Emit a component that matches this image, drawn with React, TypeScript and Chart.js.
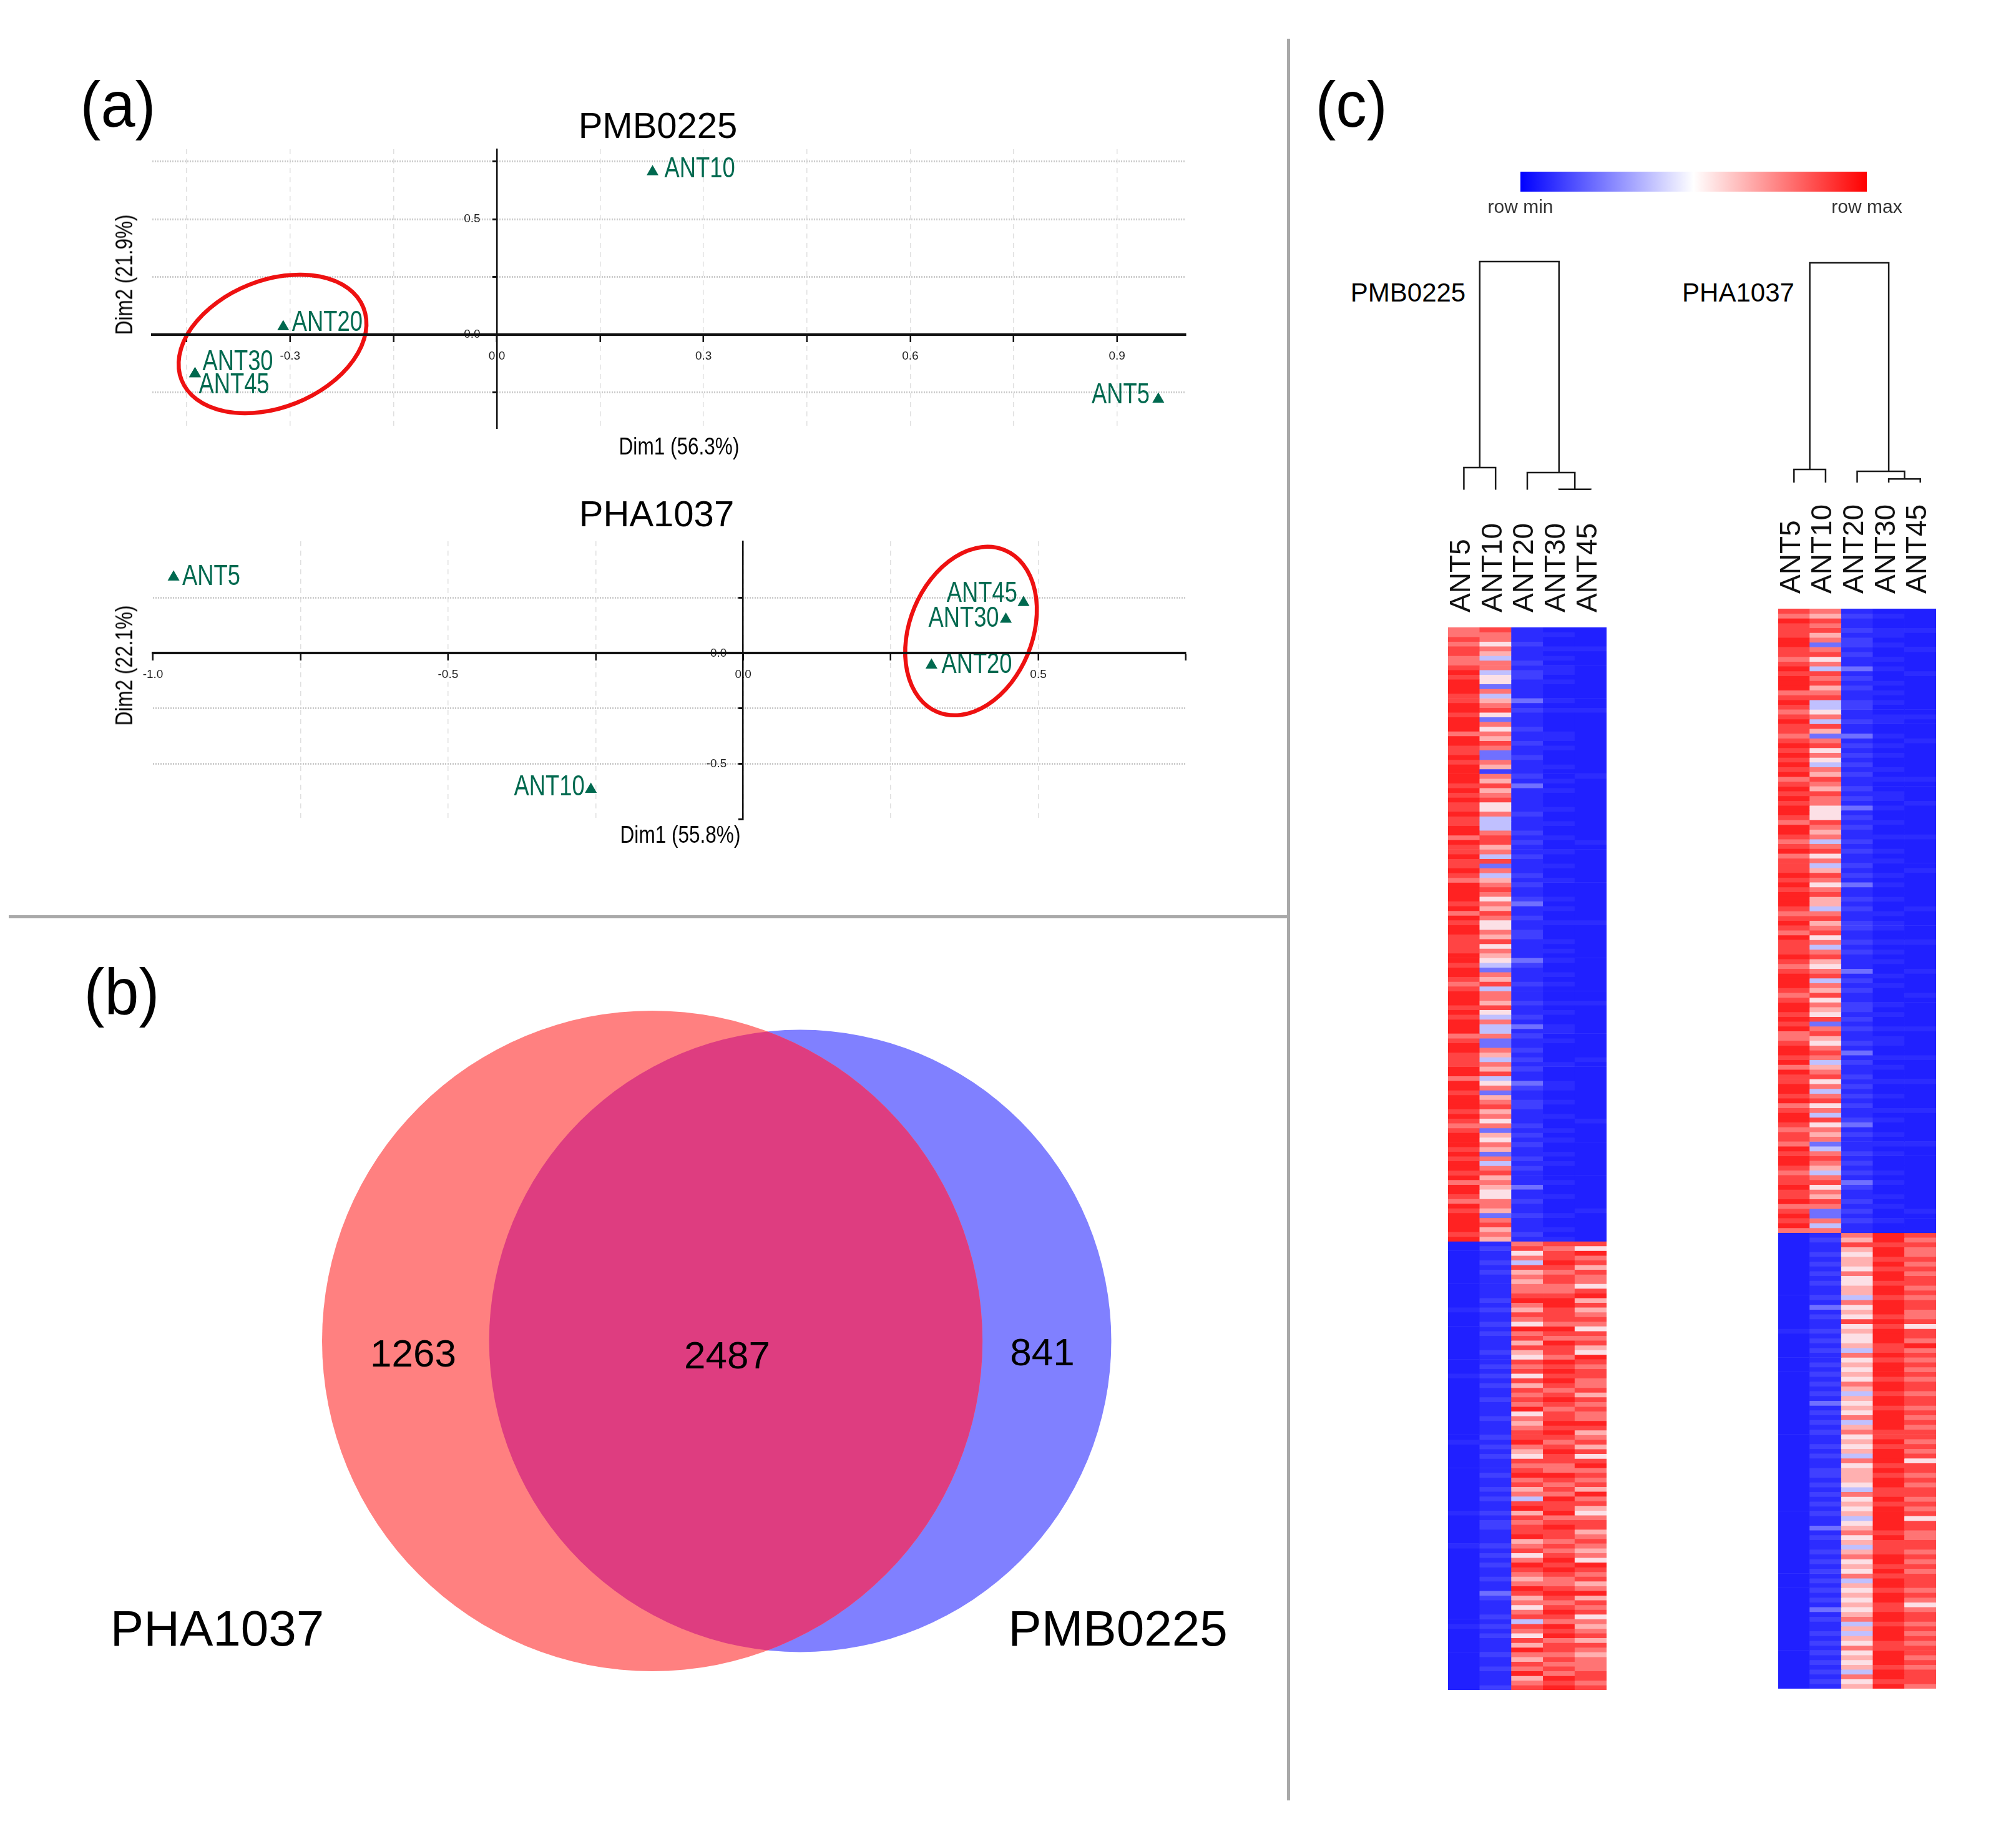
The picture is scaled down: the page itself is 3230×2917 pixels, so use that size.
import React, { useEffect, useRef } from "react";
import { Chart, registerables } from "chart.js";

Chart.register(...registerables);

const FONT = '"Liberation Sans", Arial, sans-serif';
Chart.defaults.font.family = FONT;

// ---------- (a) PCA ----------
const pcaSamples = ["ANT5", "ANT10", "ANT20", "ANT30", "ANT45"];
const pmbDim1 = [0.96, 0.226, -0.31, -0.438, -0.438];
const pmbDim2 = [-0.28, 0.705, 0.034, -0.17, -0.17];
const phaDim1 = [-0.965, -0.258, 0.319, 0.445, 0.475];
const phaDim2 = [0.344, -0.616, -0.054, 0.153, 0.229];
const pmbXTicks = [-0.45, -0.3, -0.15, 0, 0.15, 0.3, 0.45, 0.6, 0.75, 0.9];
const pmbXLabelled = [-0.3, 0, 0.3, 0.6, 0.9];
const pmbYTicks = [0.75, 0.5, 0.25, 0, -0.25];
const pmbYLabelled = [0.5, 0];
const phaXTicks = [-1, -0.75, -0.5, -0.25, 0, 0.25, 0.5, 0.75];
const phaXLabelled = [-1, -0.5, 0, 0.5];
const phaYTicks = [0.25, 0, -0.25, -0.5, -0.75];
const phaYLabelled = [0, -0.5];

// ---------- (b) Venn ----------
const vennSets = ["PHA1037", "PMB0225"];
const vennOnly = [1263, 841];
const vennShared = 2487;

// ---------- (c) heat map, digit 0 = row min ... 9 = row max, one digit per gene row ----------
const heatSamples = ["ANT5", "ANT10", "ANT20", "ANT30", "ANT45"];

const pmbUpperAnt5 = "7787887789 8999889989 9979988989 9998989889 8899798898 8987999989 7989988889 9899878999 8989997899 8889979989 9989878999 8989989799 8798999989";
const pmbUpperAnt10 = "8775764774 5537467853 7576873376 2768678557 4447886748 3746787576 8755768576 5437684776 8547447337 6476845736 7867573657 6374786765 5776378676";
const pmbUpperAnt20 = "1112111212 2111131211 1211211211 1213111112 1112121121 1121211231 1211221111 3211121112 1121312112 1212113211 2211121212 1121211131 1211211121";
const pmbUpperAnt30 = "0100101011 0100010100 0011010001 0010100010 0100100100 1001000101 0010001010 1001010001 0100110100 0010001100 1001001010 0101000100 1000100101";
const pmbUpperAnt45 = "0000100000 0000000100 0000000000 0100000000 0000010000 0000000000 0010000000 0000000001 0000000000 0100000000 0000100000 0000000000 0001000000";

const pmbLowerAnt5 = "0000000000 0000100000 0000000010 0000000000 0010000000 0000000100 0000100000 0000000000 0100000000 00000";
const pmbLowerAnt10 = "1211212111 1121211212 1112112121 2112111211 1212121112 1121211212 2111212121 1211321112 1212111211 21112";
const pmbLowerAnt20 = "7857486767 7897687597 8686587858 6878795767 8897658789 7867489687 8896785798 7679867578 4875869768 79678";
const pmbLowerAnt30 = "8788987887 7899888798 7988798989 8789878898 9878988779 8787988978 9887878989 8778987898 7989788787 87989";
const pmbLowerAnt45 = "8597868775 8968678758 7865987887 7868787798 6786858978 7869786578 8678767598 7867968785 7678687677 78878";

const phaUpperAnt5 = "8798889988 7898999789 8789887898 9898978989 8998799878 9788898989 9987898798 8898789998 7899898977 8998979889 9897899878 8798998788 9889789897";
const phaUpperAnt10 = "7687867378 5748786784 4574863785 7547687687 7555876747 8574687578 6647867857 4786578476 8576583786 5787467857 4785748576 7347876478 5768733747";
const phaUpperAnt20 = "1211212212 1131212112 2112113121 2121211212 1312121121 2112121311 2121122112 1211131212 1122121211 2131211212 1212112312 1112121213 2112121211";
const phaUpperAnt30 = "0100110100 1010010101 0011001010 1001010011 0100100100 1010010100 1001011001 0101001010 0010100101 1001010010 0100101001 0101000101 0010100100";
const phaUpperAnt45 = "0000100010 0001000000 0010000100 0000010000 1000000100 0000100000 0010000001 0000010000 1000000100 0001000010 0000100000 0100000000 0000010000";

const phaLowerAnt5 = "0000000000 0000000000 1000000000 0000000000 0000000000 0000000000 0000000000 0000000000 0000000000 00000";
const phaLowerAnt10 = "1211212121 2112131211 2121211212 1212131212 1211212112 2121212121 1312112121 2121212131 2112121212 12121";
const phaLowerAnt20 = "7686566575 5664756585 6556475656 5764656574 6756564756 6654756564 5675646756 5746565656 7464657565 64756";
const phaLowerAnt30 = "9989989899 8998999898 9998898999 8998998999 9889899989 8998898999 9989888998 9899899889 9899988999 89989";
const phaLowerAnt45 = "8787787878 8787887785 8879787878 7887887878 7887878588 7878878785 8877887878 7888787578 8787878878 78887";

const heatLevels = ["#2020ff", "#2c2cff", "#4040ff", "#7070ff", "#c0c0ff", "#fce0e6", "#ffb0b0", "#ff7474", "#ff4444", "#ff2222"];

// dendrograms: [child, child, height]; ids 0-4 are samples, 5+ are the merges in order
const pmbMerges = [[0, 1, 0.097], [3, 4, 0.002], [2, 6, 0.075], [5, 7, 1]];
const phaMerges = [[0, 1, 0.06], [3, 4, 0.016], [2, 6, 0.051], [5, 7, 1]];

// ---------- helpers ----------
const digits = (s: string) => s.replace(/\s/g, "").split("").map(Number);

const baseOptions = {
  responsive: false,
  devicePixelRatio: 1,
  animation: false,
  events: [],
};

function pcaChart(cfg: any) {
  const pointData = pcaSamples.map((_, i) => ({ x: cfg.xs[i], y: cfg.ys[i] }));
  const overlay = {
    id: "pcaOverlay",
    afterDatasetsDraw(chart: any) {
      const { ctx, scales } = chart;
      ctx.save();
      ctx.fillStyle = "#00694f";
      ctx.font = `46px ${FONT}`;
      ctx.textBaseline = "middle";
      pcaSamples.forEach((name, i) => {
        const [dx, dy, align] = cfg.places[i];
        ctx.save();
        ctx.translate(scales.x.getPixelForValue(cfg.xs[i]) + dx, scales.y.getPixelForValue(cfg.ys[i]) + dy);
        ctx.scale(0.79, 1);
        ctx.textAlign = align;
        ctx.fillText(name, 0, 0);
        ctx.restore();
      });
      const e = cfg.ellipse;
      ctx.strokeStyle = "#ee1111";
      ctx.lineWidth = 6.5;
      ctx.beginPath();
      ctx.ellipse(scales.x.getPixelForValue(e.x), scales.y.getPixelForValue(e.y), e.a, e.b, (e.rot * Math.PI) / 180, 0, 2 * Math.PI);
      ctx.stroke();
      ctx.restore();
    },
  };
  const inner = (min: number, max: number, colour: string) => (c: any) =>
    c.tick && (Math.abs(c.tick.value - min) < 0.01 || Math.abs(c.tick.value - max) < 0.01) ? "rgba(0,0,0,0)" : colour;
  return {
    type: "scatter",
    data: {
      datasets: [
        {
          data: pointData,
          pointStyle: "triangle",
          pointRadius: 11,
          backgroundColor: "#00694f",
          borderColor: "#00694f",
          borderWidth: 0,
        },
      ],
    },
    plugins: [overlay],
    options: {
      ...baseOptions,
      layout: { padding: cfg.padding },
      plugins: { legend: { display: false }, tooltip: { enabled: false } },
      scales: {
        x: {
          type: "linear",
          min: cfg.xMin,
          max: cfg.xMax,
          position: { y: 0 },
          afterBuildTicks: (s: any) => {
            s.ticks = cfg.xTicks.map((value: number) => ({ value }));
          },
          grid: { color: inner(cfg.xMin, cfg.xMax, "#e0e0e0"), lineWidth: 1.5, tickColor: "#111", tickLength: 10, tickWidth: 2.5 },
          border: { color: "#111", width: 4, dash: [8, 7], z: 1 },
          ticks: {
            autoSkip: false,
            maxRotation: 0,
            padding: 13,
            color: "#222",
            font: { size: 19 },
            callback: (v: number) => (cfg.xLabelled.includes(v) ? v.toFixed(1) : ""),
          },
        },
        y: {
          type: "linear",
          min: cfg.yMin,
          max: cfg.yMax,
          position: { x: 0 },
          afterBuildTicks: (s: any) => {
            s.ticks = cfg.yTicks.map((value: number) => ({ value }));
          },
          grid: { color: inner(cfg.yMin, cfg.yMax, "#cccccc"), lineWidth: 3, tickColor: "#111", tickLength: 6, tickWidth: 3 },
          border: { color: "#111", width: 2.5, dash: [2, 2], z: 1 },
          ticks: {
            autoSkip: false,
            color: "#222",
            font: { size: 19 },
            callback: (v: number) => (cfg.yLabelled.includes(v) ? v.toFixed(1) + "     " : ""),
          },
        },
      },
    },
  };
}

function vennChart() {
  const sizes = vennOnly.map((n) => n + vennShared);
  const radius = (n: number) => 8.64 * Math.sqrt(n);
  const overlap = {
    id: "vennOverlap",
    afterDatasetsDraw(chart: any) {
      const [a, b] = [chart.getDatasetMeta(0).data[0], chart.getDatasetMeta(1).data[0]];
      const ctx = chart.ctx;
      ctx.save();
      ctx.beginPath();
      ctx.arc(a.x, a.y, a.options.radius, 0, 2 * Math.PI);
      ctx.clip();
      ctx.beginPath();
      ctx.arc(b.x, b.y, b.options.radius, 0, 2 * Math.PI);
      ctx.fillStyle = "#de3d80";
      ctx.fill();
      ctx.restore();
    },
  };
  return {
    type: "bubble",
    data: {
      datasets: [
        { label: vennSets[0], data: [{ x: 0.21, y: 0.5, r: radius(sizes[0]) }], backgroundColor: "#ff8080", borderWidth: 0, hoverRadius: 0, clip: false },
        { label: vennSets[1], data: [{ x: 0.865, y: 0.5, r: radius(sizes[1]) }], backgroundColor: "#8080ff", borderWidth: 0, hoverRadius: 0, clip: false },
      ],
    },
    plugins: [overlap],
    options: {
      ...baseOptions,
      plugins: { legend: { display: false }, tooltip: { enabled: false } },
      scales: {
        x: { type: "linear", min: 0, max: 1, display: false },
        y: { type: "linear", min: 0, max: 1, display: false },
      },
    },
  };
}

function heatChart(upper: string[], lower: string[]) {
  const columns = upper.map((s, i) => digits(s).concat(digits(lower[i])));
  const rows = Math.max(...columns.map((c) => c.length));
  const datasets = Array.from({ length: rows }, (_, r) => ({
    data: columns.map(() => 1),
    backgroundColor: columns.map((c) => heatLevels[c[r]] ?? "#ffffff"),
    borderWidth: 0,
    barPercentage: 1,
    categoryPercentage: 1,
  }));
  return {
    type: "bar",
    data: { labels: heatSamples, datasets },
    options: {
      ...baseOptions,
      layout: { padding: 0 },
      plugins: { legend: { display: false }, tooltip: { enabled: false } },
      scales: {
        x: {
          stacked: true,
          position: "top",
          grid: { display: false },
          border: { display: false },
          afterFit: (s: any) => {
            s.height = 205;
            s.paddingLeft = 0;
            s.paddingRight = 0;
          },
          ticks: { autoSkip: false, minRotation: 90, maxRotation: 90, padding: 16, labelOffset: 52, color: "#111", font: { size: 46 } },
        },
        y: { stacked: true, reverse: true, min: 0, max: rows, display: false },
      },
    },
  };
}

function treeChart(merges: number[][], padding: any) {
  const nodes: { x: number; h: number; leaves: number[] }[] = heatSamples.map((_, i) => ({ x: i, h: 0, leaves: [i] }));
  const datasets = merges.map(([a, b, h]) => {
    const [A, B] = [nodes[a], nodes[b]];
    const leaves = A.leaves.concat(B.leaves);
    nodes.push({ x: leaves.reduce((t, v) => t + v, 0) / leaves.length, h, leaves });
    return {
      data: [
        { x: A.x, y: A.h },
        { x: A.x, y: h },
        { x: B.x, y: h },
        { x: B.x, y: B.h },
      ],
      showLine: true,
      pointRadius: 0,
      borderColor: "#1a1a1a",
      borderWidth: 2.5,
      tension: 0,
      clip: false,
    };
  });
  return {
    type: "scatter",
    data: { datasets },
    options: {
      ...baseOptions,
      layout: { padding },
      plugins: { legend: { display: false }, tooltip: { enabled: false } },
      scales: {
        x: { type: "linear", min: -0.5, max: 4.5, display: false },
        y: { type: "linear", min: 0, max: 1, display: false },
      },
    },
  };
}

function colorBarChart() {
  return {
    type: "bar",
    data: {
      labels: ["row"],
      datasets: [
        {
          data: [1],
          barPercentage: 1,
          categoryPercentage: 1,
          backgroundColor: (c: any) => {
            const area = c.chart.chartArea;
            if (!area) return "#fff";
            const g = c.chart.ctx.createLinearGradient(area.left, 0, area.right, 0);
            g.addColorStop(0, "#0000ff");
            g.addColorStop(0.5, "#ffffff");
            g.addColorStop(1, "#ff0000");
            return g;
          },
        },
      ],
    },
    options: {
      ...baseOptions,
      indexAxis: "y",
      layout: { padding: { left: 100, right: 100 } },
      plugins: { legend: { display: false }, tooltip: { enabled: false } },
      scales: {
        x: {
          type: "linear",
          min: 0,
          max: 1,
          afterBuildTicks: (s: any) => {
            s.ticks = [{ value: 0 }, { value: 1 }];
          },
          afterFit: (s: any) => {
            s.height = 43;
          },
          grid: { display: false },
          border: { display: false },
          ticks: {
            autoSkip: false,
            maxRotation: 0,
            padding: 0,
            color: "#333",
            font: { size: 30 },
            callback: (v: number) => (v === 0 ? "row min" : "row max"),
          },
        },
        y: { display: false },
      },
    },
  };
}

// ---------- components ----------
function Box({ x, y, w, h, make }: any) {
  const ref = useRef<HTMLCanvasElement>(null);
  useEffect(() => {
    const chart = new Chart(ref.current as any, make());
    return () => chart.destroy();
  }, []);
  return <canvas ref={ref} width={w} height={h} style={{ position: "absolute", left: x, top: y, width: w, height: h }} />;
}

function Txt({ x, y, size, children, sx = 1, rot = 0, color = "#000" }: any) {
  return (
    <span
      style={{
        position: "absolute",
        left: x,
        top: y,
        fontFamily: FONT,
        fontSize: size,
        lineHeight: 1,
        color,
        whiteSpace: "nowrap",
        transform: `translate(-50%,-50%) rotate(${rot}deg) scaleX(${sx})`,
      }}
    >
      {children}
    </span>
  );
}

const rule = { position: "absolute", background: "#a9a9a9" } as const;

export default function App() {
  return (
    <div style={{ position: "absolute", left: 0, top: 0, width: 3230, height: 2917, background: "#fff", overflow: "hidden" }}>
      <div style={{ ...rule, left: 14, top: 1466, width: 2050, height: 5 }} />
      <div style={{ ...rule, left: 2062, top: 62, width: 5, height: 2822 }} />

      <Box
        x={100}
        y={165}
        w={1908}
        h={570}
        make={() =>
          pcaChart({
            xs: pmbDim1,
            ys: pmbDim2,
            xMin: -0.5,
            xMax: 1.0,
            yMin: -0.403,
            yMax: 0.803,
            xTicks: pmbXTicks,
            yTicks: pmbYTicks,
            xLabelled: pmbXLabelled,
            yLabelled: pmbYLabelled,
            padding: { left: 144, right: 108, top: 74, bottom: 50 },
            places: [
              [-14, -6, "right"],
              [19, -4, "left"],
              [14, -6, "left"],
              [12, -19, "left"],
              [6, 18, "left"],
            ],
            ellipse: { x: -0.3255, y: -0.0405, a: 156.8, b: 101.9, rot: -21.7 },
          })
        }
      />
      <Box
        x={100}
        y={787}
        w={1904}
        h={558}
        make={() =>
          pcaChart({
            xs: phaDim1,
            ys: phaDim2,
            xMin: -1,
            xMax: 0.75,
            yMin: -0.75,
            yMax: 0.506,
            xTicks: phaXTicks,
            yTicks: phaYTicks,
            xLabelled: phaXLabelled,
            yLabelled: phaYLabelled,
            padding: { left: 145, right: 104, top: 80, bottom: 33 },
            places: [
              [14, 0, "left"],
              [-10, -3, "right"],
              [16, 0, "left"],
              [-11, -1, "right"],
              [-10, -14, "right"],
            ],
            ellipse: { x: 0.386, y: 0.1, a: 140.4, b: 98.2, rot: -67.4 },
          })
        }
      />
      <Txt x={189} y={167} size={104} sx={0.95}>(a)</Txt>
      <Txt x={1054} y={201} size={58}>PMB0225</Txt>
      <Txt x={1052} y={823} size={58}>PHA1037</Txt>
      <Txt x={1088} y={715} size={38} sx={0.83}>Dim1 (56.3%)</Txt>
      <Txt x={199} y={440} size={38} sx={0.83} rot={-90}>Dim2 (21.9%)</Txt>
      <Txt x={1090} y={1337} size={38} sx={0.83}>Dim1 (55.8%)</Txt>
      <Txt x={199} y={1066} size={38} sx={0.83} rot={-90}>Dim2 (22.1%)</Txt>

      <Box x={440} y={1558} w={1420} h={1180} make={vennChart} />
      <Txt x={195} y={1588} size={104} sx={0.95}>(b)</Txt>
      <Txt x={662} y={2168} size={62}>{vennOnly[0]}</Txt>
      <Txt x={1165} y={2171} size={62}>{vennShared}</Txt>
      <Txt x={1670} y={2166} size={62}>{vennOnly[1]}</Txt>
      <Txt x={348} y={2609} size={80}>{vennSets[0]}</Txt>
      <Txt x={1791} y={2609} size={80}>{vennSets[1]}</Txt>

      <Txt x={2165} y={167} size={104} sx={0.95}>(c)</Txt>
      <Box x={2336} y={275} w={755} h={75} make={colorBarChart} />
      <Txt x={2256} y={469} size={42}>PMB0225</Txt>
      <Txt x={2785} y={469} size={42}>PHA1037</Txt>
      <Box x={2320} y={410} w={254} h={380} make={() => treeChart(pmbMerges, { top: 9, bottom: 5.5, left: 0, right: 0 })} />
      <Box x={2849} y={410} w={253} h={370} make={() => treeChart(phaMerges, { top: 11, bottom: 7, left: 0, right: 0 })} />
      <Box
        x={2320}
        y={800}
        w={254}
        h={1907}
        make={() =>
          heatChart(
            [pmbUpperAnt5, pmbUpperAnt10, pmbUpperAnt20, pmbUpperAnt30, pmbUpperAnt45],
            [pmbLowerAnt5, pmbLowerAnt10, pmbLowerAnt20, pmbLowerAnt30, pmbLowerAnt45]
          )
        }
      />
      <Box
        x={2849}
        y={770}
        w={253}
        h={1935}
        make={() =>
          heatChart(
            [phaUpperAnt5, phaUpperAnt10, phaUpperAnt20, phaUpperAnt30, phaUpperAnt45],
            [phaLowerAnt5, phaLowerAnt10, phaLowerAnt20, phaLowerAnt30, phaLowerAnt45]
          )
        }
      />
    </div>
  );
}
